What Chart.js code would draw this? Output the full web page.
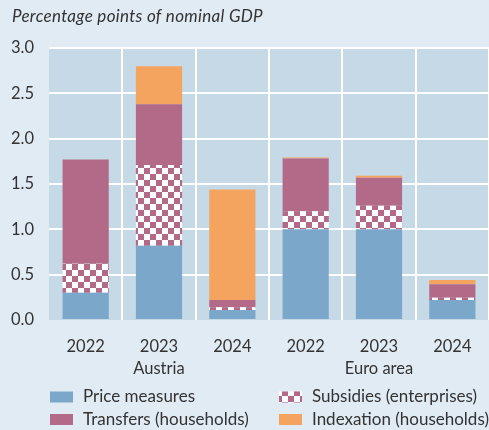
<!DOCTYPE html>
<html>
<head>
<meta charset="utf-8">
<script src="https://cdn.jsdelivr.net/npm/chart.js@4"></script>
<style>
  html, body { margin: 0; padding: 0; background: #e1ebf4; }
  #wrap { width: 489px; height: 430px; position: relative; }
</style>
</head>
<body>
<div id="wrap"><canvas id="c" width="489" height="430"></canvas></div>
<script>
const years = ['2022', '2023', '2024', '2022', '2023', '2024'];
const groups = ['', 'Austria', '', '', 'Euro area', ''];
const priceMeasures = [0.30, 0.82, 0.11, 1.00, 1.00, 0.22];
const subsidies = [0.32, 0.89, 0.03, 0.20, 0.26, 0.025];
const transfers = [1.15, 0.67, 0.08, 0.58, 0.31, 0.15];
const indexation = [0, 0.42, 1.22, 0.012, 0.02, 0.045];
const seriesNames = ['Price measures', 'Subsidies (enterprises)', 'Transfers (households)', 'Indexation (households)'];
const yTicks = [0, 0.5, 1.0, 1.5, 2.0, 2.5, 3.0];
const titleText = 'Percentage points of nominal GDP';

const FONT = 'Lato, "Open Sans", sans-serif';
const TEXT = '#333333';
const BLUE = '#7aa7ca';
const PINK = '#b36a88';
const ORANGE = '#f4a45e';
const PLOT_BG = '#c6d9e7';

function makeChecker(cell) {
  const c = document.createElement('canvas');
  c.width = cell * 2; c.height = cell * 2;
  const g = c.getContext('2d');
  g.fillStyle = '#ffffff'; g.fillRect(0, 0, cell * 2, cell * 2);
  g.fillStyle = PINK;
  g.fillRect(0, 0, cell, cell);
  g.fillRect(cell, cell, cell, cell);
  return g.createPattern(c, 'repeat');
}
const checker = makeChecker(6);

const fills = [BLUE, checker, PINK, ORANGE];
const values = [priceMeasures, subsidies, transfers, indexation];

const plotBg = {
  id: 'plotBg',
  beforeDraw(chart) {
    const { ctx, chartArea: a } = chart;
    ctx.save();
    ctx.fillStyle = PLOT_BG;
    ctx.fillRect(a.left, a.top, a.right - a.left, a.bottom - a.top);
    ctx.restore();
  }
};

const titleAndLegend = {
  id: 'titleAndLegend',
  afterDraw(chart) {
    const ctx = chart.ctx;
    ctx.save();
    ctx.fillStyle = TEXT;
    ctx.font = 'italic 17px ' + FONT;
    if ('letterSpacing' in ctx) ctx.letterSpacing = '0.3px';
    ctx.textBaseline = 'alphabetic';
    ctx.textAlign = 'left';
    ctx.fillText(titleText, 12, 22);
    if ('letterSpacing' in ctx) ctx.letterSpacing = '0px';

    const cols = [50, 279];
    const rows = [397, 419.5];
    ctx.font = '17px ' + FONT;
    ctx.textBaseline = 'middle';
    chart.data.datasets.forEach((ds, i) => {
      const x = cols[i % 2];
      const y = rows[Math.floor(i / 2)];
      ctx.fillStyle = ds.backgroundColor;
      ctx.fillRect(x, y - 5.5, 23, 11);
      ctx.fillStyle = TEXT;
      ctx.fillText(ds.label, x + 33, y);
    });
    ctx.restore();
  }
};

new Chart(document.getElementById('c'), {
  type: 'bar',
  data: {
    labels: years.map((y, i) => [y, groups[i]]),
    datasets: seriesNames.map((name, i) => ({
      label: name,
      data: values[i],
      backgroundColor: fills[i],
      borderWidth: 0,
      barPercentage: 0.63,
      categoryPercentage: 1.0
    }))
  },
  options: {
    responsive: false,
    animation: false,
    layout: { padding: { top: 48, bottom: 50, left: 0, right: 0 } },
    plugins: {
      legend: { display: false },
      title: { display: false },
      tooltip: { enabled: false }
    },
    scales: {
      x: {
        stacked: true,
        offset: true,
        border: { display: false },
        grid: {
          offset: true,
          drawTicks: false,
          lineWidth: 2,
          color: (c) => (c.index === 0 || c.index >= years.length) ? 'rgba(0,0,0,0)' : '#ffffff'
        },
        ticks: {
          color: TEXT,
          font: { family: FONT, size: 16.5, lineHeight: 1.37 },
          padding: 15,
          maxRotation: 0,
          autoSkip: false
        },
        afterFit(s) { s.height = 60; }
      },
      y: {
        stacked: true,
        min: 0,
        max: 3,
        border: { display: false },
        afterBuildTicks(s) { s.ticks = yTicks.map(v => ({ value: v })); },
        grid: {
          drawTicks: false,
          lineWidth: 2,
          color: (c) => c.tick && c.tick.value === 0 ? 'rgba(0,0,0,0)' : '#ffffff'
        },
        ticks: {
          color: TEXT,
          font: { family: FONT, size: 16.5 },
          padding: 15,
          callback: (v) => Number(v).toFixed(1)
        },
        afterFit(s) { s.width = 49; }
      }
    }
  },
  plugins: [plotBg, titleAndLegend]
});
</script>
</body>
</html>
